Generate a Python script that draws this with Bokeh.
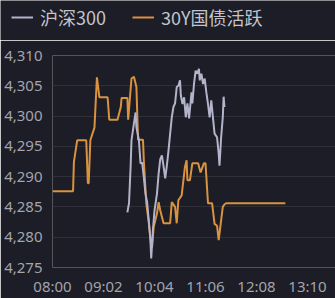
from bokeh.plotting import figure
from bokeh.layouts import column, row
from bokeh.models import ColumnDataSource, FixedTicker, Legend, LegendItem, Range1d
from bokeh.embed import file_html
from bokeh.resources import INLINE

# Intraday series (time of day, value)
hs300_time = ["09:31", "09:33", "09:35", "09:36", "09:39", "09:41", "09:42", "09:45", "09:47", "09:49",
              "09:51", "09:53", "09:55", "09:57", "09:59", "10:00", "10:02", "10:04", "10:07", "10:09",
              "10:11", "10:13", "10:15", "10:17", "10:19", "10:21", "10:23", "10:25", "10:27", "10:29",
              "10:31", "10:33", "10:35", "10:36", "10:38", "10:40", "10:42", "10:44", "10:46", "10:49",
              "10:50", "10:52", "10:54", "10:56", "10:58", "10:59", "11:01", "11:03", "11:05", "11:07",
              "11:09", "11:11", "11:13", "11:15", "11:17", "11:20", "11:22", "11:23", "11:25", "11:27",
              "11:28", "11:29"]
hs300_value = [4284.1, 4285.6, 4291.8, 4296.0, 4298.8, 4300.6, 4298.2, 4296.0, 4292.2, 4292.3,
               4289.9, 4287.2, 4285.8, 4282.8, 4279.5, 4276.5, 4281.1, 4284.4, 4287.2, 4290.5,
               4292.9, 4293.5, 4291.7, 4289.7, 4291.8, 4294.3, 4297.1, 4299.8, 4301.5, 4302.1,
               4304.8, 4305.0, 4305.9, 4303.4, 4302.0, 4303.1, 4299.8, 4302.1, 4299.6, 4303.9,
               4302.1, 4305.3, 4307.5, 4307.0, 4307.8, 4305.9, 4307.0, 4305.3, 4306.2, 4303.9,
               4302.0, 4299.8, 4302.6, 4299.8, 4297.1, 4296.5, 4293.8, 4291.8, 4296.5, 4299.8,
               4303.2, 4301.5]

bond30y_time = ["08:00", "08:25", "08:26", "08:30", "08:41", "08:43", "08:44", "08:46", "08:51", "08:54",
                "08:57", "09:07", "09:09", "09:19", "09:23", "09:24", "09:31", "09:32", "09:36", "09:39",
                "09:42", "09:44", "09:50", "09:51", "09:54", "09:57", "10:00", "10:01", "10:03", "10:07",
                "10:09", "10:11", "10:15", "10:23", "10:25", "10:29", "10:31", "10:33", "10:37", "10:41",
                "10:43", "10:44", "10:47", "10:50", "10:57", "11:00", "11:04", "11:06", "11:09", "11:14",
                "11:17", "11:20", "11:22", "11:24", "11:27", "11:29", "11:31", "12:43"]
bond30y_value = [4287.6, 4287.6, 4292.4, 4296.0, 4296.0, 4288.9, 4288.9, 4296.0, 4298.1, 4306.4,
                 4303.1, 4303.1, 4299.4, 4299.4, 4301.5, 4303.0, 4303.0, 4299.4, 4306.2, 4306.5,
                 4304.8, 4296.1, 4296.1, 4292.7, 4285.6, 4282.5, 4278.6, 4278.3, 4281.7, 4283.9,
                 4285.8, 4284.4, 4282.3, 4282.3, 4285.8, 4285.0, 4282.3, 4286.1, 4286.9, 4291.6,
                 4292.7, 4289.4, 4289.4, 4292.2, 4292.2, 4290.7, 4292.2, 4292.2, 4285.6, 4285.6,
                 4282.2, 4281.9, 4279.5, 4281.7, 4285.0, 4285.4, 4285.6, 4285.6]

x_tick_labels = ["08:00", "09:02", "10:04", "11:06", "12:08", "13:10"]
y_ticks = [4275, 4280, 4285, 4290, 4295, 4300, 4305, 4310]

series_names = ["沪深300", "30Y国债活跃"]
series_colors = ["#b3b3c9", "#d9933f"]

BG = "#1c1d26"
TEXT = "#a3a4ad"
GRID = "#2f3038"
LINE_W = 2


def minutes(hhmm):
    h, m = hhmm.split(":")
    return (int(h) - 8) * 60 + int(m)


x_ticks = [minutes(t) for t in x_tick_labels]

# --- main chart ---
p = figure(width=335, height=258, output_backend="svg", toolbar_location=None,
           x_range=Range1d(0, 344), y_range=Range1d(4275, 4310),
           min_border_left=52, min_border_right=0, min_border_top=15, min_border_bottom=31)
p.background_fill_color = BG
p.border_fill_color = BG
p.outline_line_color = None

src_a = ColumnDataSource(dict(t=[minutes(t) for t in hs300_time], v=hs300_value))
src_b = ColumnDataSource(dict(t=[minutes(t) for t in bond30y_time], v=bond30y_value))
p.line("t", "v", source=src_b, line_color=series_colors[1], line_width=LINE_W)
p.line("t", "v", source=src_a, line_color=series_colors[0], line_width=LINE_W)

p.xaxis.ticker = FixedTicker(ticks=x_ticks)
p.xaxis.major_label_overrides = {x: s for x, s in zip(x_ticks, x_tick_labels)}
p.yaxis.ticker = FixedTicker(ticks=y_ticks)
p.yaxis.major_label_overrides = {y: f"{y:,}" for y in y_ticks}
for ax in (p.xaxis, p.yaxis):
    ax.axis_line_color = None
    ax.major_tick_line_color = None
    ax.minor_tick_line_color = None
    ax.major_tick_out = 0
    ax.axis_label_standoff = 0
    ax.major_label_text_color = TEXT
    ax.major_label_text_font = "Noto Sans"
    ax.major_label_text_font_size = "15px"
p.yaxis.major_label_standoff = 10
p.xaxis.major_label_standoff = 8

p.xgrid.grid_line_color = None
p.ygrid.grid_line_color = GRID
p.ygrid.grid_line_width = 1

# --- legend strip across the top (its own row, so its frame spans the full width) ---
leg = figure(width=335, height=40, output_backend="svg", toolbar_location=None,
             x_range=Range1d(0, 335), y_range=Range1d(0, 40),
             min_border=0, x_axis_type=None, y_axis_type=None)
leg.background_fill_color = BG
leg.border_fill_color = BG
leg.outline_line_color = None
leg.grid.visible = False
k_a = leg.line(x=[-10, -5], y=[-10, -10], line_color=series_colors[0], line_width=LINE_W)
k_b = leg.line(x=[-10, -5], y=[-10, -10], line_color=series_colors[1], line_width=LINE_W)

legend = Legend(items=[LegendItem(label=series_names[0], renderers=[k_a]),
                       LegendItem(label=series_names[1], renderers=[k_b])],
                location=(11, 10), orientation="horizontal",
                padding=0, margin=0, spacing=26, glyph_width=22, glyph_height=20,
                label_height=20, label_standoff=7,
                label_text_font="Noto Sans CJK SC", label_text_font_size="18px",
                label_text_color="#c4c4cc", border_line_color=None,
                background_fill_alpha=0)
leg.add_layout(legend, "center")

layout = column(row(leg, spacing=0), p, spacing=0)
open("out.html", "w").write(file_html(layout, INLINE))
